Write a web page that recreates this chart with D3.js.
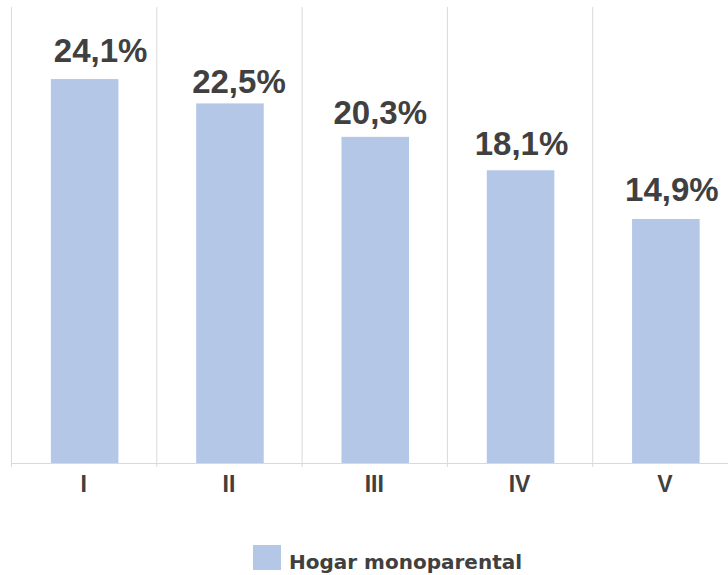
<!DOCTYPE html>
<html>
<head>
<meta charset="utf-8">
<script src="https://cdn.jsdelivr.net/npm/d3@7"></script>
<style>
  body { margin: 0; background: #fff; }
  svg { display: block; }
</style>
</head>
<body>
<div id="chart"></div>
<script>
// data
var categories = ['I', 'II', 'III', 'IV', 'V']
var values = [24.1, 22.5, 20.3, 18.1, 14.9]
var seriesName = 'Hogar monoparental'

// labels were nudged by hand in the original, keep those shifts here
var labelDx = [17, 10, 6, 2, 7]
var labelDy = [17, 10, 13, 15, 18]

var width = 728, height = 575
var plot = {left: 11, top: 7, bottom: 463, step: 145.3}

var svg = d3.select('#chart').append('svg')
  .attr('width', width)
  .attr('height', height)

var x = d3.scaleBand()
  .domain(categories)
  .range([plot.left, plot.left + plot.step * categories.length])
  .padding(0)

// axis does not start at 0 in the source chart
var y = d3.scaleLinear()
  .domain([-1.15, 29.3])
  .range([plot.bottom, 0])

var barW = x.bandwidth() * 0.465
var fmt = function(v) { return d3.format('.1f')(v).replace('.', ',') + '%' }

// vertical gridlines at band edges
var edges = categories.map(function(c) { return x(c) }).concat([x.range()[1]])
svg.append('g').selectAll('line')
  .data(edges)
  .enter().append('line')
    .attr('x1', function(d) { return d + 0.5 })
    .attr('x2', function(d) { return d + 0.5 })
    .attr('y1', plot.top)
    .attr('y2', plot.bottom + 4)
    .attr('stroke', '#d9d9d9')
    .attr('stroke-width', 1)

svg.append('line')
  .attr('x1', plot.left)
  .attr('x2', width)
  .attr('y1', plot.bottom + 0.5)
  .attr('y2', plot.bottom + 0.5)
  .attr('stroke', '#d9d9d9')

// bars
svg.append('g').selectAll('rect')
  .data(values)
  .enter().append('rect')
    .attr('x', function(d, i) { return x(categories[i]) + (x.bandwidth() - barW) / 2 + 1 })
    .attr('y', function(d) { return y(d) })
    .attr('width', barW)
    .attr('height', function(d) { return plot.bottom - y(d) })
    .attr('fill', '#b4c7e7')

// value labels
svg.append('g').selectAll('text')
  .data(values)
  .enter().append('text')
    .attr('x', function(d, i) { return x(categories[i]) + x.bandwidth() / 2 + labelDx[i] })
    .attr('y', function(d, i) { return y(d) - labelDy[i] })
    .attr('text-anchor', 'middle')
    .style('font-family', '"Liberation Sans", Arial, sans-serif')
    .style('font-weight', 'bold')
    .style('font-size', '33px')
    .style('fill', '#404040')
    .text(fmt)

// category labels
svg.append('g').selectAll('text')
  .data(categories)
  .enter().append('text')
    .attr('x', function(d) { return x(d) + x.bandwidth() / 2 })
    .attr('y', 492)
    .attr('text-anchor', 'middle')
    .style('font-family', '"Liberation Sans", Arial, sans-serif')
    .style('font-weight', 'bold')
    .style('font-size', '23px')
    .style('fill', '#404040')
    .text(function(d) { return d })

// legend
var legend = svg.append('g')
legend.append('rect')
  .attr('x', 253)
  .attr('y', 545)
  .attr('width', 28)
  .attr('height', 25)
  .attr('fill', '#b4c7e7')
legend.append('text')
  .attr('x', 289)
  .attr('y', 569)
  .style('font-family', '"DejaVu Sans", sans-serif')
  .style('font-weight', 'bold')
  .style('font-size', '20px')
  .style('fill', '#404040')
  .text(seriesName)
</script>
</body>
</html>
